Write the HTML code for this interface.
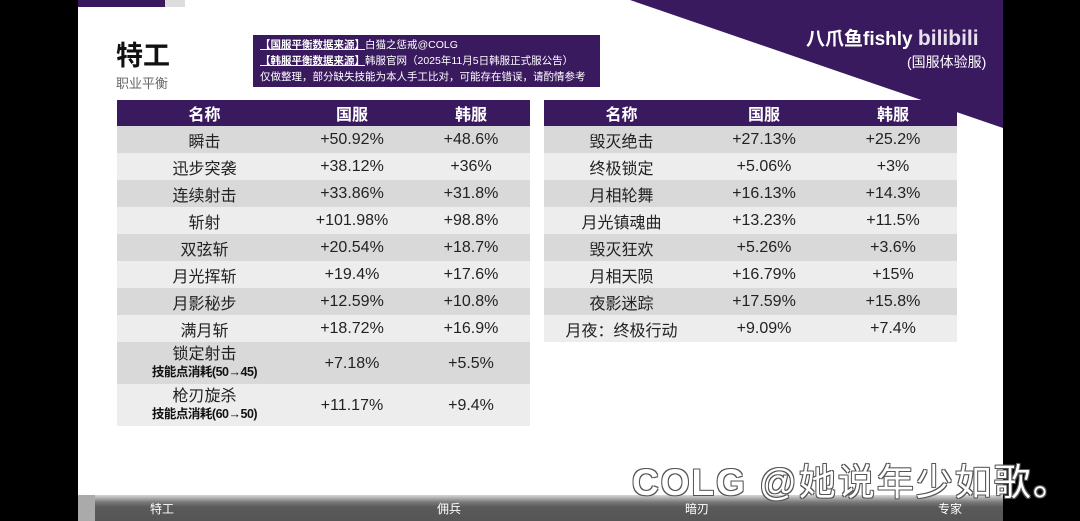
<!DOCTYPE html>
<html><head><meta charset="utf-8"><style>
*{margin:0;padding:0;box-sizing:border-box}
body{width:1080px;height:521px;background:#000;position:relative;overflow:hidden;font-family:"Liberation Sans","Noto Sans CJK SC",sans-serif}
.abs{position:absolute}
.main{left:78px;top:0;width:925px;height:521px;background:#fff}
table{position:absolute;border-collapse:collapse;table-layout:fixed}
td{text-align:center;font-size:16px;color:#222;padding:0;white-space:nowrap}
tr.h td{background:#3a1a5e;color:#fff;font-weight:bold;font-size:16px;height:26px}
tr.d td{background:#d9d9d9;height:27px}
tr.l td{background:#ededed;height:27px}
tr.t td{height:42px;line-height:17px}
.sub{font-size:12.5px;font-weight:bold;color:#111;letter-spacing:-0.5px}
.nav{font-size:12px;color:#fff;top:500px}
</style></head><body>
<div class="abs main"></div>
<div class="abs" style="left:78px;top:0;width:87px;height:7px;background:#3a1a5e"></div>
<div class="abs" style="left:165px;top:0;width:20px;height:7px;background:#ddd"></div>
<svg class="abs" style="left:0;top:0" width="1080" height="521"><polygon points="630,0 1003,0 1003,128" fill="#3a1a5e"/></svg>
<div class="abs" style="left:116px;top:34px;font-size:27px;font-weight:bold;color:#111">特工</div>
<div class="abs" style="left:116px;top:73px;font-size:13px;color:#666">职业平衡</div>
<div class="abs" style="left:253px;top:35px;width:347px;height:52px;background:#3a1a5e;color:#fff;font-size:10.5px;line-height:16px;padding:2px 0 0 7px;white-space:nowrap"><b style="text-decoration:underline">【国服平衡数据来源】</b>白猫之惩戒@COLG<br><b style="text-decoration:underline">【韩服平衡数据来源】</b>韩服官网（2025年11月5日韩服正式服公告）<br>仅做整理，部分缺失技能为本人手工比对，可能存在错误，请酌情参考</div>
<div class="abs" style="left:806px;top:24px;font-size:19px;font-weight:bold;color:#fff">八爪鱼fishly <span style="color:#e8e0ee;font-size:21px">bilibili</span></div>
<div class="abs" style="left:907px;top:52px;font-size:14px;color:#fff">(国服体验服)</div>
<table style="left:117px;top:100px;width:413px">
<colgroup><col style="width:175px"><col style="width:120px"><col style="width:118px"></colgroup>
<tr class="h"><td>名称</td><td>国服</td><td>韩服</td></tr>
<tr class="d"><td>瞬击</td><td>+50.92%</td><td>+48.6%</td></tr>
<tr class="l"><td>迅步突袭</td><td>+38.12%</td><td>+36%</td></tr>
<tr class="d"><td>连续射击</td><td>+33.86%</td><td>+31.8%</td></tr>
<tr class="l"><td>斩射</td><td>+101.98%</td><td>+98.8%</td></tr>
<tr class="d"><td>双弦斩</td><td>+20.54%</td><td>+18.7%</td></tr>
<tr class="l"><td>月光挥斩</td><td>+19.4%</td><td>+17.6%</td></tr>
<tr class="d"><td>月影秘步</td><td>+12.59%</td><td>+10.8%</td></tr>
<tr class="l"><td>满月斩</td><td>+18.72%</td><td>+16.9%</td></tr>
<tr class="d t"><td>锁定射击<br><span class="sub">技能点消耗(50→45)</span></td><td>+7.18%</td><td>+5.5%</td></tr>
<tr class="l t"><td>枪刃旋杀<br><span class="sub">技能点消耗(60→50)</span></td><td>+11.17%</td><td>+9.4%</td></tr>
</table>
<table style="left:544px;top:100px;width:413px">
<colgroup><col style="width:155px"><col style="width:130px"><col style="width:128px"></colgroup>
<tr class="h"><td>名称</td><td>国服</td><td>韩服</td></tr>
<tr class="d"><td>毁灭绝击</td><td>+27.13%</td><td>+25.2%</td></tr>
<tr class="l"><td>终极锁定</td><td>+5.06%</td><td>+3%</td></tr>
<tr class="d"><td>月相轮舞</td><td>+16.13%</td><td>+14.3%</td></tr>
<tr class="l"><td>月光镇魂曲</td><td>+13.23%</td><td>+11.5%</td></tr>
<tr class="d"><td>毁灭狂欢</td><td>+5.26%</td><td>+3.6%</td></tr>
<tr class="l"><td>月相天陨</td><td>+16.79%</td><td>+15%</td></tr>
<tr class="d"><td>夜影迷踪</td><td>+17.59%</td><td>+15.8%</td></tr>
<tr class="l"><td>月夜：终极行动</td><td>+9.09%</td><td>+7.4%</td></tr>
</table>
<div class="abs" style="left:78px;top:495px;width:925px;height:26px;background:linear-gradient(#d8d8d8 0px,#7a7a7a 7px,#5a5a5a 12px,#555 26px)"></div>
<div class="abs" style="left:78px;top:495px;width:17px;height:26px;background:#aaa"></div>
<div class="abs nav" style="left:150px">特工</div>
<div class="abs nav" style="left:437px">佣兵</div>
<div class="abs nav" style="left:685px">暗刃</div>
<div class="abs nav" style="left:938px">专家</div>
<div class="abs" style="left:632px;top:452px;font-size:37px;letter-spacing:2px;color:#fff;white-space:nowrap;text-shadow:-1px -1px 0 #555,1px -1px 0 #555,-1px 1px 0 #555,1px 1px 0 #555"><b>COLG</b> @她说年少如歌。</div>
</body></html>
